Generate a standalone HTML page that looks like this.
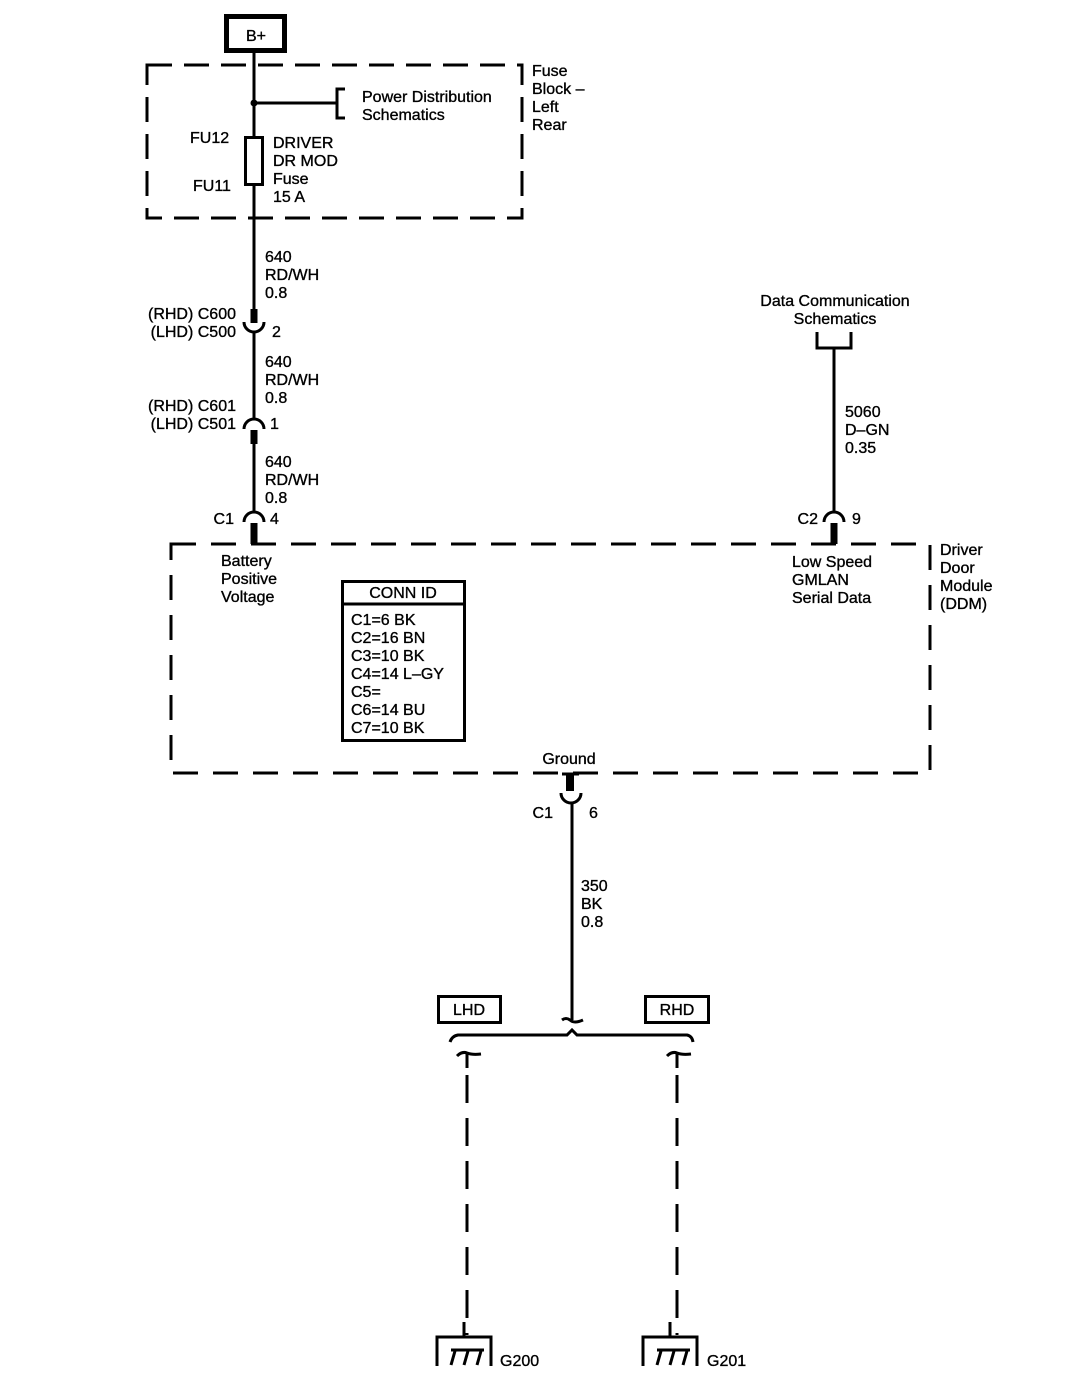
<!DOCTYPE html>
<html><head><meta charset="utf-8"><style>
html,body{margin:0;padding:0;background:#fff;}
svg{display:block;}
text{font-family:"Liberation Sans",Arial,sans-serif;font-size:16px;fill:#000;stroke:#000;stroke-width:0.35px;}
</style></head><body>
<svg width="1070" height="1392" viewBox="0 0 1070 1392" xmlns="http://www.w3.org/2000/svg">
<g fill="none" stroke="#000">
<rect x="226.5" y="16.5" width="58" height="34" stroke-width="5"/>
<rect x="147" y="65" width="375" height="153" stroke-width="3" stroke-dasharray="25,12"/>
<line x1="254" y1="51" x2="254" y2="310" stroke-width="3"/>
<line x1="254" y1="103" x2="337" y2="103" stroke-width="3"/>
<path d="M345 89 H337 V118 H345" stroke-width="3"/>
<rect x="245.5" y="137.5" width="17" height="47" stroke-width="3" fill="#fff"/>
<line x1="254" y1="309" x2="254" y2="323" stroke-width="7"/>
<path d="M244 322 A10 10 0 0 0 264 322" stroke-width="3"/>
<line x1="254" y1="331" x2="254" y2="420" stroke-width="3"/>
<path d="M244 429 A10 10 0 0 1 264 429" stroke-width="3"/>
<line x1="254" y1="430" x2="254" y2="444" stroke-width="7"/>
<line x1="254" y1="444" x2="254" y2="512" stroke-width="3"/>
<path d="M244 522 A10 10 0 0 1 264 522" stroke-width="3"/>
<line x1="254" y1="523" x2="254" y2="544" stroke-width="7"/>
<rect x="171" y="544" width="759" height="229" stroke-width="3" stroke-dasharray="25,15"/>
<rect x="342.5" y="581.5" width="122" height="159" stroke-width="3"/>
<line x1="342" y1="604" x2="465" y2="604" stroke-width="3"/>
<path d="M817 332 V348 H851 V332" stroke-width="3"/>
<line x1="834" y1="348" x2="834" y2="513" stroke-width="3"/>
<path d="M824 522 A10 10 0 0 1 844 522" stroke-width="3"/>
<line x1="834" y1="523" x2="834" y2="544" stroke-width="7"/>
<line x1="570" y1="773" x2="570" y2="791" stroke-width="8"/>
<line x1="562" y1="774" x2="579" y2="774" stroke-width="3"/>
<path d="M561 793 A10 10 0 0 0 581 793" stroke-width="3"/>
<line x1="572" y1="803" x2="572" y2="1020" stroke-width="3"/>
<path d="M562 1020 Q566 1017 570 1020 Q574 1024 583 1020" stroke-width="3"/>
<path d="M450 1042 Q452 1036 458 1035 H567 L572 1030 L577 1035 H687 Q692 1036 693 1042" stroke-width="3"/>
<path d="M457 1056 Q462 1051 467 1053 Q472 1055 481 1054" stroke-width="3"/>
<line x1="467" y1="1053" x2="467" y2="1068" stroke-width="3"/>
<path d="M667 1056 Q672 1051 677 1053 Q682 1055 691 1054" stroke-width="3"/>
<line x1="677" y1="1053" x2="677" y2="1068" stroke-width="3"/>
<line x1="467" y1="1075" x2="467" y2="1335" stroke-width="3" stroke-dasharray="28,15"/>
<line x1="677" y1="1075" x2="677" y2="1335" stroke-width="3" stroke-dasharray="28,15"/>
<rect x="438.5" y="996.5" width="62" height="26" stroke-width="3"/>
<rect x="645.5" y="996.5" width="63" height="26" stroke-width="3"/>
<path d="M437 1366 V1337 H491 V1366" stroke-width="3"/>
<line x1="464" y1="1322" x2="464" y2="1337" stroke-width="3"/>
<path d="M451 1365 L455 1351 M464 1365 L468 1351 M477 1365 L481 1351 M451 1350 H484" stroke-width="3"/>
<path d="M643 1366 V1337 H697 V1366" stroke-width="3"/>
<line x1="670" y1="1322" x2="670" y2="1337" stroke-width="3"/>
<path d="M657 1365 L661 1351 M670 1365 L674 1351 M683 1365 L687 1351 M657 1350 H690" stroke-width="3"/>
</g>
<circle cx="254" cy="103" r="3.5"/>
<g>
<text x="256" y="41" text-anchor="middle">B+</text>
<text x="362" y="102">Power Distribution</text>
<text x="362" y="120">Schematics</text>
<text x="532" y="76">Fuse</text>
<text x="532" y="94">Block –</text>
<text x="532" y="112">Left</text>
<text x="532" y="130">Rear</text>
<text x="190" y="143">FU12</text>
<text x="193" y="191">FU11</text>
<text x="273" y="148">DRIVER</text>
<text x="273" y="166">DR MOD</text>
<text x="273" y="184">Fuse</text>
<text x="273" y="202">15 A</text>
<text x="265" y="262">640</text>
<text x="265" y="280">RD/WH</text>
<text x="265" y="298">0.8</text>
<text x="236" y="319" text-anchor="end">(RHD) C600</text>
<text x="236" y="337" text-anchor="end">(LHD) C500</text>
<text x="272" y="337">2</text>
<text x="265" y="367">640</text>
<text x="265" y="385">RD/WH</text>
<text x="265" y="403">0.8</text>
<text x="236" y="411" text-anchor="end">(RHD) C601</text>
<text x="236" y="429" text-anchor="end">(LHD) C501</text>
<text x="270" y="429">1</text>
<text x="265" y="467">640</text>
<text x="265" y="485">RD/WH</text>
<text x="265" y="503">0.8</text>
<text x="234" y="524" text-anchor="end">C1</text>
<text x="270" y="524">4</text>
<text x="221" y="566">Battery</text>
<text x="221" y="584">Positive</text>
<text x="221" y="602">Voltage</text>
<text x="403" y="598" text-anchor="middle">CONN ID</text>
<text x="351" y="625">C1=6 BK</text>
<text x="351" y="643">C2=16 BN</text>
<text x="351" y="661">C3=10 BK</text>
<text x="351" y="679">C4=14 L–GY</text>
<text x="351" y="697">C5=</text>
<text x="351" y="715">C6=14 BU</text>
<text x="351" y="733">C7=10 BK</text>
<text x="835" y="306" text-anchor="middle">Data Communication</text>
<text x="835" y="324" text-anchor="middle">Schematics</text>
<text x="845" y="417">5060</text>
<text x="845" y="435">D–GN</text>
<text x="845" y="453">0.35</text>
<text x="818" y="524" text-anchor="end">C2</text>
<text x="852" y="524">9</text>
<text x="792" y="567">Low Speed</text>
<text x="792" y="585">GMLAN</text>
<text x="792" y="603">Serial Data</text>
<text x="940" y="555">Driver</text>
<text x="940" y="573">Door</text>
<text x="940" y="591">Module</text>
<text x="940" y="609">(DDM)</text>
<text x="569" y="764" text-anchor="middle">Ground</text>
<text x="553" y="818" text-anchor="end">C1</text>
<text x="589" y="818">6</text>
<text x="581" y="891">350</text>
<text x="581" y="909">BK</text>
<text x="581" y="927">0.8</text>
<text x="469" y="1015" text-anchor="middle">LHD</text>
<text x="677" y="1015" text-anchor="middle">RHD</text>
<text x="500" y="1366">G200</text>
<text x="707" y="1366">G201</text>
</g>
</svg>
</body></html>
